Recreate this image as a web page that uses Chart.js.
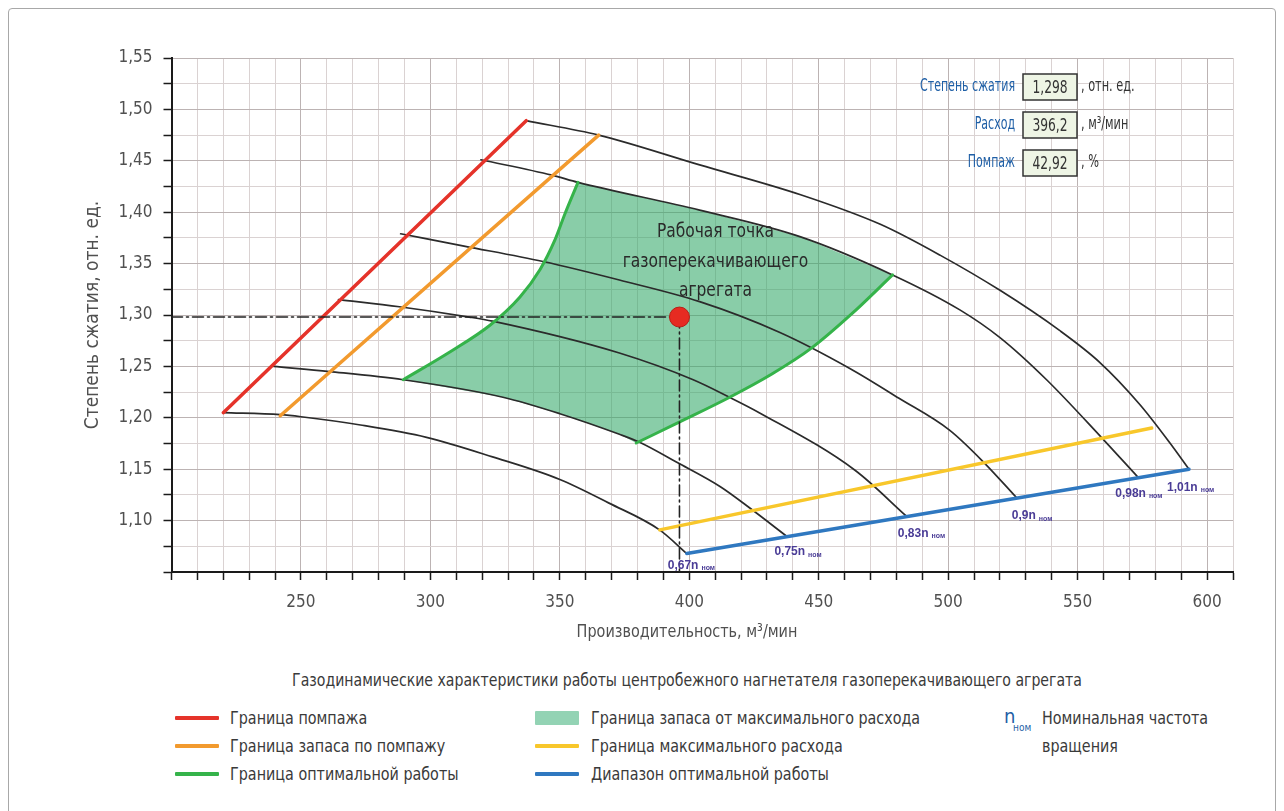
<!DOCTYPE html>
<html lang="ru">
<head>
<meta charset="utf-8">
<title>Газодинамические характеристики нагнетателя</title>
<script src="https://cdn.jsdelivr.net/npm/chart.js@4.4.1/dist/chart.umd.min.js"></script>
<style>
  html, body { margin: 0; padding: 0; background: #fff; }
  body {
    width: 1284px; height: 811px; position: relative; overflow: hidden;
    font-family: 'Liberation Sans Narrow', 'DejaVu Sans Condensed', sans-serif;
    color: #3a3a3a;
  }
  .marco { position: absolute; left: 8px; top: 8px; width: 1268px; height: 840px;
           border: 1px solid #a8a8a8; border-radius: 4px; box-sizing: border-box; }
  #grafico { position: absolute; left: 0; top: 0; }
  .caption { position: absolute; top: 669px; left: 45px; width: 1284px; text-align: center;
             font-size: 18px; line-height: 22px; color: #3a3a3a;
             transform: scaleX(0.87); transform-origin: 642px 0; }
  .leg { position: absolute; font-size: 18px; line-height: 22px; color: #3a3a3a; white-space: nowrap;
         transform: scaleX(0.885); transform-origin: 0 0; }
  .sw { position: absolute; width: 44px; height: 4px; border-radius: 1px; }
  .nsym { position: absolute; color: #1f5fa6; }
</style>
</head>
<body>
<div class="marco"></div>
<canvas id="grafico" width="1284" height="660"></canvas>

<div class="caption">Газодинамические характеристики работы центробежного нагнетателя газоперекачивающего агрегата</div>

<div class="sw" style="left:175px; top:716px; background:#e5332a"></div>
<div class="leg" style="left:230px; top:707px">Граница помпажа</div>
<div class="sw" style="left:175px; top:744px; background:#f29a2e"></div>
<div class="leg" style="left:230px; top:735px">Граница запаса по помпажу</div>
<div class="sw" style="left:175px; top:772px; background:#35b34a"></div>
<div class="leg" style="left:230px; top:763px">Граница оптимальной работы</div>

<div class="sw" style="left:535px; top:711px; height:14px; background:#93d3b4"></div>
<div class="leg" style="left:591px; top:707px">Граница запаса от максимального расхода</div>
<div class="sw" style="left:535px; top:744px; background:#f8c72b"></div>
<div class="leg" style="left:591px; top:735px">Граница максимального расхода</div>
<div class="sw" style="left:535px; top:772px; background:#2f78c0"></div>
<div class="leg" style="left:591px; top:763px">Диапазон оптимальной работы</div>

<div class="nsym" style="left:1004px; top:704px; font-size:20px">n</div>
<div class="nsym" style="left:1013px; top:722px; font-size:10px">ном</div>
<div class="leg" style="left:1042px; top:707px">Номинальная частота</div>
<div class="leg" style="left:1042px; top:735px">вращения</div>

<script>
// Линии постоянной частоты вращения (производительность, м3/мин / степень сжатия)
const flow101 = [337, 365, 404, 443, 474, 497, 520, 543, 558.5, 574, 585.5, 593];
const ratio101 = [1.489, 1.475, 1.446, 1.417, 1.388, 1.358, 1.324, 1.285, 1.254, 1.213, 1.176, 1.150];

const flow098 = [319.5, 347, 357, 404, 443, 478.5, 504.5, 520, 538, 559.5, 573];
const ratio098 = [1.451, 1.436, 1.429, 1.402, 1.376, 1.339, 1.305, 1.278, 1.237, 1.180, 1.143];

const flow090 = [288.5, 313, 343.5, 373, 404, 435, 462, 481, 500.5, 514, 526.5];
const ratio090 = [1.379, 1.367, 1.352, 1.334, 1.313, 1.283, 1.248, 1.219, 1.188, 1.156, 1.122];

const flow083 = [264.5, 288, 315, 324, 373, 401.5, 415.5, 427, 464, 484];
const ratio083 = [1.315, 1.308, 1.298, 1.294, 1.263, 1.237, 1.220, 1.205, 1.149, 1.104];

const flow075 = [239.5, 261, 289.5, 328, 350, 373, 381, 395, 412, 423.5, 437.5];
const ratio075 = [1.250, 1.245, 1.237, 1.220, 1.204, 1.184, 1.176, 1.157, 1.133, 1.112, 1.085];

const flow067 = [220, 242, 250, 273, 298.5, 324, 350, 369, 388.5, 399];
const ratio067 = [1.205, 1.203, 1.201, 1.193, 1.181, 1.162, 1.140, 1.117, 1.091, 1.068];

const speedNames = ['0,67', '0,75', '0,83', '0,9', '0,98', '1,01'];

// Границы
const surgeFlow = [220, 337];
const surgeRatio = [1.205, 1.489];
const surgeMarginFlow = [242, 365];
const surgeMarginRatio = [1.202, 1.475];
const maxFlowFlow = [388.6, 578.6];
const maxFlowRatio = [1.091, 1.190];
const optRangeFlow = [399, 593];
const optRangeRatio = [1.068, 1.150];

// Зона оптимальной работы (левая и правая границы)
const optLeftFlow = [289.5, 307.5, 323, 334.6, 342.3, 348.1, 351.9, 357];
const optLeftRatio = [1.237, 1.264, 1.290, 1.3175, 1.344, 1.373, 1.398, 1.429];
const optRightFlow = [379.5, 396.3, 415.6, 431.9, 447.3, 462.7, 478.5];
const optRightRatio = [1.1755, 1.196, 1.220, 1.2426, 1.268, 1.301, 1.339];

// Рабочая точка
const workFlow = 396.2;
const workRatio = 1.298;
const workSurge = '42,92';

const infoLabels = ['Степень сжатия', 'Расход', 'Помпаж'];
const infoValues = [workRatio.toFixed(3).replace('.', ','), workFlow.toFixed(1).replace('.', ','), workSurge];
const infoUnits = [', отн. ед.', ', м³/мин', ', %'];

const xTitle = 'Производительность, м³/мин';
const yTitle = 'Степень сжатия, отн. ед.';

const FONT = "'Liberation Sans Narrow', 'DejaVu Sans Condensed', sans-serif";

function puntos(xs, ys) {
    return xs.map((x, i) => ({ x: x, y: ys[i] }));
}

const curvas = [
    [flow067, ratio067], [flow075, ratio075], [flow083, ratio083],
    [flow090, ratio090], [flow098, ratio098], [flow101, ratio101]
];

// верхняя и нижняя граница заливки
const leftTop = optLeftFlow[optLeftFlow.length - 1];
const rightTop = optRightFlow[optRightFlow.length - 1];
const upperFill = puntos(optLeftFlow, optLeftRatio)
    .concat(puntos(flow098, ratio098).filter(p => p.x > leftTop && p.x <= rightTop));
const lowerFill = puntos(flow075, ratio075).filter(p => p.x >= optLeftFlow[0] && p.x < optRightFlow[0])
    .concat(puntos(optRightFlow, optRightRatio));

const datasets = [];
datasets.push({ data: lowerFill, borderColor: 'rgba(0,0,0,0)', borderWidth: 0, fill: false, tension: 0, order: 20 });
datasets.push({ data: upperFill, borderColor: 'rgba(0,0,0,0)', borderWidth: 0, fill: 0,
                backgroundColor: 'rgba(52,168,105,0.58)', tension: 0, order: 19 });

curvas.forEach(c => {
    datasets.push({ data: puntos(c[0], c[1]), borderColor: '#2b2b2b', borderWidth: 1.7,
                    cubicInterpolationMode: 'monotone', fill: false, order: 10 });
});

datasets.push({ data: puntos(optLeftFlow, optLeftRatio), borderColor: '#35b34a', borderWidth: 3,
                cubicInterpolationMode: 'monotone', fill: false, order: 8 });
datasets.push({ data: puntos(optRightFlow, optRightRatio), borderColor: '#35b34a', borderWidth: 3,
                cubicInterpolationMode: 'monotone', fill: false, order: 8 });
datasets.push({ data: puntos(surgeFlow, surgeRatio), borderColor: '#e5332a', borderWidth: 3.5, fill: false, order: 7 });
datasets.push({ data: puntos(surgeMarginFlow, surgeMarginRatio), borderColor: '#f29a2e', borderWidth: 3.5, fill: false, order: 7 });
datasets.push({ data: puntos(maxFlowFlow, maxFlowRatio), borderColor: '#f8c72b', borderWidth: 3.5, fill: false, order: 7 });
datasets.push({ data: puntos(optRangeFlow, optRangeRatio), borderColor: '#2f78c0', borderWidth: 3.5, fill: false, order: 7 });

// штрихпунктир к рабочей точке
datasets.push({ data: [{ x: 200, y: workRatio }, { x: workFlow, y: workRatio }], borderColor: '#222',
                borderWidth: 1.6, borderDash: [11, 4, 2, 4], fill: false, tension: 0, order: 4 });
datasets.push({ data: [{ x: workFlow, y: workRatio }, { x: workFlow, y: 1.05 }], borderColor: '#222',
                borderWidth: 1.6, borderDash: [11, 4, 2, 4], fill: false, tension: 0, order: 4 });
datasets.push({ data: [{ x: workFlow, y: workRatio }], showLine: false, pointRadius: 10,
                pointBackgroundColor: '#e62b22', pointBorderColor: '#b81d16', pointBorderWidth: 1, order: 1 });

// смещения подписей частоты от конца кривой, px
const labelOffsets = [[-19, 12], [-12, 16], [-9, 17], [-5, 18], [-22, 17], [-22, 18]];

// узкий текст: сжимаем по горизонтали
function textoEstrecho(ctx, s, x, y, align, sx) {
    ctx.save();
    ctx.translate(x, y);
    ctx.scale(sx, 1);
    ctx.textAlign = align;
    ctx.fillText(s, 0, 0);
    ctx.restore();
}

const anotaciones = {
    id: 'anotaciones',
    afterDraw(chart) {
        const ctx = chart.ctx;
        const xs = chart.scales.x, ys = chart.scales.y;
        ctx.save();
        ctx.textBaseline = 'middle';

        // подпись оси X
        ctx.fillStyle = '#505050';
        ctx.font = '18px ' + FONT;
        textoEstrecho(ctx, xTitle, 687, 632, 'center', 0.89);

        // подписи частот
        curvas.forEach((c, i) => {
            const px = xs.getPixelForValue(c[0][c[0].length - 1]) + labelOffsets[i][0];
            const py = ys.getPixelForValue(c[1][c[1].length - 1]) + labelOffsets[i][1];
            ctx.fillStyle = '#4a3c96';
            ctx.textAlign = 'left';
            ctx.font = "bold 12px 'Liberation Sans', sans-serif";
            const t = speedNames[i] + 'n';
            ctx.fillText(t, px, py);
            const w = ctx.measureText(t).width;
            ctx.font = "bold 7px 'Liberation Sans', sans-serif";
            ctx.fillText('ном', px + w + 3, py + 3);
        });

        // надпись рабочей точки
        const wx = xs.getPixelForValue(workFlow), wy = ys.getPixelForValue(workRatio);
        ctx.fillStyle = '#2a2a2a';
        ctx.font = '20px ' + FONT;
        ['Рабочая точка', 'газоперекачивающего', 'агрегата'].forEach((s, i) => {
            textoEstrecho(ctx, s, wx + 36, wy - 85 + i * 29.5, 'center', 0.86);
        });

        // блок параметров
        infoLabels.forEach((lab, i) => {
            const cy = 87 + i * 38;
            ctx.font = '17px ' + FONT;
            ctx.fillStyle = '#1f5fa6';
            textoEstrecho(ctx, lab, 1015, cy, 'right', 0.72);
            ctx.fillStyle = '#eef5e5';
            ctx.fillRect(1023, cy - 13, 54, 26);
            ctx.strokeStyle = '#333';
            ctx.lineWidth = 1.5;
            ctx.strokeRect(1023, cy - 13, 54, 26);
            ctx.fillStyle = '#333';
            ctx.font = '18px ' + FONT;
            textoEstrecho(ctx, infoValues[i], 1050, cy + 1, 'center', 0.76);
            ctx.font = '17px ' + FONT;
            textoEstrecho(ctx, infoUnits[i], 1081, cy, 'left', 0.74);
        });
        ctx.restore();
    }
};

const gridX = c => (c.tick && c.tick.value % 50 === 0) ? '#bcb3b3' : '#dad2d2';
const gridY = c => (c.tick && Math.round(c.tick.value * 1000) % 50 === 0) ? '#bcb3b3' : '#dad2d2';

new Chart(document.getElementById('grafico').getContext('2d'), {
    type: 'line',
    data: { datasets: datasets },
    options: {
        responsive: false,
        animation: false,
        devicePixelRatio: 1,
        layout: { padding: { left: 70, top: 58, right: 51, bottom: 0 } },
        plugins: { legend: { display: false }, tooltip: { enabled: false } },
        elements: { point: { radius: 0 }, line: { borderCapStyle: 'round', borderJoinStyle: 'round' } },
        scales: {
            x: {
                type: 'linear', min: 200, max: 610,
                afterFit: s => { s.height = 88; },
                ticks: {
                    stepSize: 10, autoSkip: false, maxRotation: 0, padding: 12,
                    color: '#505050', font: { family: FONT, size: 17 },
                    callback: v => (v % 50 === 0 && v !== 200) ? String(v) : ''
                },
                grid: { color: gridX, lineWidth: 1, tickColor: '#1a1a1a', tickLength: 8, tickWidth: 1.5 },
                border: { color: '#1a1a1a', width: 2 },
                title: { display: false }
            },
            y: {
                type: 'linear', min: 1.05, max: 1.55,
                afterFit: s => { s.width = 101.5; },
                ticks: {
                    stepSize: 0.025, autoSkip: false, padding: 11,
                    color: '#505050', font: { family: FONT, size: 17 },
                    callback: v => {
                        const k = Math.round(v * 1000);
                        return (k % 50 === 0 && k !== 1050) ? (k / 1000).toFixed(2).replace('.', ',') : '';
                    }
                },
                grid: { color: gridY, lineWidth: 1, tickColor: '#1a1a1a', tickLength: 8, tickWidth: 1.5 },
                border: { color: '#1a1a1a', width: 2 },
                title: { display: true, text: yTitle, color: '#505050',
                         font: { family: FONT, size: 19 }, padding: { top: 12, bottom: 0 } }
            }
        }
    },
    plugins: [anotaciones]
});
</script>
</body>
</html>
